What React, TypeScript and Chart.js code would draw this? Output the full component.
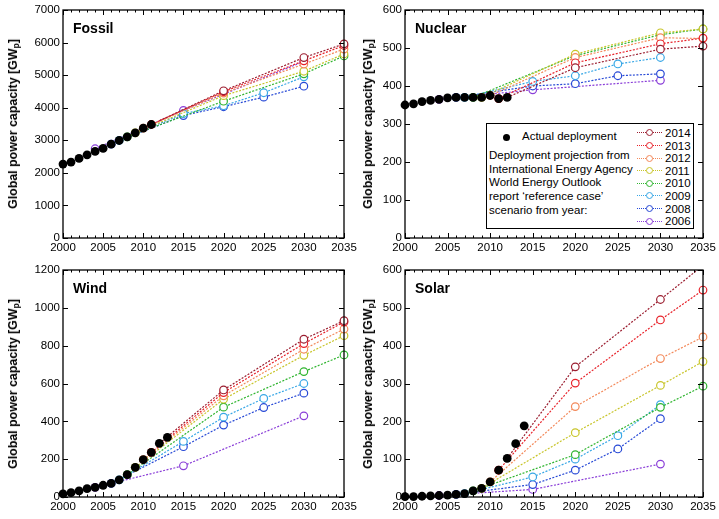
import React, { useEffect, useRef } from 'react';
import { Chart, registerables } from 'chart.js';

Chart.register(...registerables);

const FONT = "'Liberation Sans', Arial, Helvetica, sans-serif";

// ---------- data ----------
const actualYears = [2000, 2001, 2002, 2003, 2004, 2005, 2006, 2007, 2008, 2009, 2010, 2011, 2012, 2013, 2014];

const fossilActual = [2269, 2330, 2442, 2555, 2657, 2749, 2882, 2994, 3106, 3229, 3372, 3485];
const nuclearActual = [350, 353, 359, 362, 365, 369, 370, 370, 370, 370, 375, 367, 370];
const windActual = [16, 23, 32, 44, 51, 62, 72, 91, 118, 157, 197, 236, 283, 315];
const solarActual = [1, 1, 2, 3, 4, 5, 7, 9, 16, 23, 40, 71, 102, 141, 188];

const reports = ['2014', '2013', '2012', '2011', '2010', '2009', '2008', '2006'];
const colors = ['#9b1e30', '#e8232b', '#f3895a', '#c8c52a', '#30b530', '#38a7e6', '#2749d6', '#8a3ed8'];

const pYears2014 = [2012, 2020, 2030, 2035];
const pYears2013 = [2011, 2020, 2030, 2035];
const pYears2012 = [2010, 2020, 2030, 2035];
const pYears2011 = [2009, 2020, 2030, 2035];
const pYears2010 = [2008, 2020, 2030, 2035];
const pYears2009 = [2007, 2015, 2020, 2025, 2030];
const pYears2008 = [2006, 2015, 2020, 2025, 2030];
const pYears2006 = [2004, 2015, 2030];
const reportYears = [pYears2014, pYears2013, pYears2012, pYears2011, pYears2010, pYears2009, pYears2008, pYears2006];

const fossilP2014 = [3600, 4520, 5540, 5960];
const fossilP2013 = [3485, 4490, 5440, 5910];
const fossilP2012 = [3372, 4450, 5340, 5800];
const fossilP2011 = [3229, 4370, 5120, 5650];
const fossilP2010 = [3106, 4200, 5040, 5590];
const fossilP2009 = [2994, 3820, 4060, 4460, 4950];
const fossilP2008 = [2882, 3760, 4030, 4325, 4660];
const fossilP2006 = [2740, 3915, 5420];

const nuclearP2014 = [370, 448, 497, 505];
const nuclearP2013 = [367, 461, 511, 526];
const nuclearP2012 = [375, 475, 527, 525];
const nuclearP2011 = [370, 484, 540, 550];
const nuclearP2010 = [370, 480, 535, 550];
const nuclearP2009 = [370, 412, 427, 458, 475];
const nuclearP2008 = [370, 400, 406, 427, 432];
const nuclearP2006 = [365, 390, 415];

const windP2014 = [283, 566, 834, 932];
const windP2013 = [236, 552, 811, 925];
const windP2012 = [197, 535, 781, 888];
const windP2011 = [157, 517, 749, 853];
const windP2010 = [118, 475, 663, 751];
const windP2009 = [91, 294, 422, 521, 600];
const windP2008 = [72, 266, 380, 473, 549];
const windP2006 = [51, 165, 429];

const solarP2014 = [102, 344, 522, 612];
const solarP2013 = [71, 301, 468, 547];
const solarP2012 = [40, 239, 366, 423];
const solarP2011 = [23, 170, 295, 358];
const solarP2010 = [16, 112, 237, 293];
const solarP2009 = [9, 53, 100, 162, 244];
const solarP2008 = [7, 33, 71, 127, 207];
const solarP2006 = [4, 20, 87];

// ---------- layout ----------
const PAD_L = 60;
const PAD_T = 10;
const PAD_R = 18;
const PAD_B = 24;

type PanelDef = {
  title: string;
  plot: [number, number, number, number];
  yMax: number;
  yStep: number;
  axisTitleX: number;
  actual: number[];
  proj: number[][];
};

const panels: PanelDef[] = [
  {
    title: 'Fossil', plot: [63, 10, 344, 238], yMax: 7000, yStep: 1000, axisTitleX: 13,
    actual: fossilActual,
    proj: [fossilP2014, fossilP2013, fossilP2012, fossilP2011, fossilP2010, fossilP2009, fossilP2008, fossilP2006],
  },
  {
    title: 'Nuclear', plot: [405, 10, 703, 238], yMax: 600, yStep: 100, axisTitleX: 368,
    actual: nuclearActual,
    proj: [nuclearP2014, nuclearP2013, nuclearP2012, nuclearP2011, nuclearP2010, nuclearP2009, nuclearP2008, nuclearP2006],
  },
  {
    title: 'Wind', plot: [63, 270, 344, 497], yMax: 1200, yStep: 200, axisTitleX: 13,
    actual: windActual,
    proj: [windP2014, windP2013, windP2012, windP2011, windP2010, windP2009, windP2008, windP2006],
  },
  {
    title: 'Solar', plot: [405, 270, 703, 497], yMax: 600, yStep: 100, axisTitleX: 368,
    actual: solarActual,
    proj: [solarP2014, solarP2013, solarP2012, solarP2011, solarP2010, solarP2009, solarP2008, solarP2006],
  },
];

const frameTicks = {
  id: 'frameTicks',
  afterDraw(chart: any) {
    const { ctx, chartArea } = chart;
    const { left, right, top, bottom } = chartArea;
    const x = chart.scales.x;
    const y = chart.scales.y;
    ctx.save();
    ctx.strokeStyle = '#000';
    ctx.lineWidth = 1.3;
    ctx.strokeRect(left, top, right - left, bottom - top);
    ctx.lineWidth = 1;
    ctx.beginPath();
    for (let yr = x.min; yr <= x.max; yr++) {
      const px = Math.round(x.getPixelForValue(yr)) + 0.5;
      const len = yr % 5 === 0 ? 5 : 2.5;
      ctx.moveTo(px, bottom);
      ctx.lineTo(px, bottom - len);
      ctx.moveTo(px, top);
      ctx.lineTo(px, top + len);
    }
    y.ticks.forEach((t: any) => {
      const py = Math.round(y.getPixelForValue(t.value)) + 0.5;
      ctx.moveTo(left, py);
      ctx.lineTo(left + 5, py);
      ctx.moveTo(right, py);
      ctx.lineTo(right - 5, py);
    });
    ctx.stroke();
    ctx.restore();
  },
};

function buildDatasets(actual: number[], proj: number[][]) {
  const clip = { left: 10, top: 0, right: 10, bottom: 10 };
  const ds: any[] = [
    {
      label: 'Actual deployment',
      data: actual.map((v, i) => ({ x: actualYears[i], y: v })),
      showLine: false,
      pointRadius: 4.4,
      pointBackgroundColor: '#000',
      pointBorderColor: '#000',
      pointBorderWidth: 0,
      clip,
    },
  ];
  proj.forEach((vals, k) => {
    ds.push({
      label: reports[k],
      data: vals.map((v, i) => ({ x: reportYears[k][i], y: v })),
      borderColor: colors[k],
      borderWidth: 1.2,
      borderDash: [2, 1.5],
      pointRadius: (c: any) => (k === 0 && c.dataIndex === 0 ? 0 : 3.8),
      pointBorderWidth: 1.2,
      pointBackgroundColor: '#fff',
      pointBorderColor: colors[k],
      tension: 0,
      fill: false,
      clip,
    });
  });
  return ds;
}

function Panel({ def }: { def: PanelDef }) {
  const ref = useRef<HTMLCanvasElement>(null);
  const [l, t, r, b] = def.plot;
  const w = r - l + PAD_L + PAD_R;
  const h = b - t + PAD_T + PAD_B;

  useEffect(() => {
    if (!ref.current) return;
    const tickFont = { family: FONT, size: 11.5 };
    const chart = new Chart(ref.current, {
      type: 'line',
      data: { datasets: buildDatasets(def.actual, def.proj) },
      options: {
        animation: false,
        responsive: false,
        maintainAspectRatio: false,
        events: [],
        layout: { padding: { left: 0, top: PAD_T, right: PAD_R, bottom: 0 } },
        plugins: { legend: { display: false }, tooltip: { enabled: false } },
        scales: {
          x: {
            type: 'linear',
            min: 2000,
            max: 2035,
            ticks: { stepSize: 5, padding: 3, color: '#000', font: tickFont, maxRotation: 0, autoSkip: false, callback: (v: any) => String(v) },
            grid: { display: false, drawTicks: false },
            border: { display: false },
            afterFit: (s: any) => { s.height = PAD_B; },
          },
          y: {
            type: 'linear',
            min: 0,
            max: def.yMax,
            ticks: { stepSize: def.yStep, padding: 3, color: '#000', font: tickFont, callback: (v: any) => String(v) },
            grid: { display: false, drawTicks: false },
            border: { display: false },
            afterFit: (s: any) => { s.width = PAD_L; },
          },
        },
      } as any,
      plugins: [frameTicks],
    });
    return () => chart.destroy();
  }, [def]);

  const cy = (t + b) / 2;
  return (
    <>
      <canvas
        ref={ref}
        width={w}
        height={h}
        style={{ position: 'absolute', left: l - PAD_L, top: t - PAD_T, width: w, height: h }}
      />
      <div
        style={{
          position: 'absolute', left: l + 10, top: t + 10.5, fontSize: 14, fontWeight: 'bold',
          lineHeight: '15px', color: '#000', whiteSpace: 'nowrap',
        }}
      >
        {def.title}
      </div>
      <div
        style={{
          position: 'absolute', left: def.axisTitleX, top: cy, transform: 'translate(-50%, -50%) rotate(-90deg)',
          fontSize: 12.4, fontWeight: 'bold', whiteSpace: 'nowrap', lineHeight: '14px', color: '#000',
        }}
      >
        Global power capacity [GW<sub style={{ fontSize: 8.5, verticalAlign: -2, lineHeight: 0 }}>p</sub>]
      </div>
    </>
  );
}

const legendTextLines = [
  'Deployment projection from',
  'International Energy Agency',
  'World Energy Outlook',
  "report \u2018reference case\u2019",
  'scenario from year:',
];

function Legend() {
  const L = 486;
  const T = 123;
  return (
    <div
      style={{
        position: 'absolute', left: L, top: T, width: 208, height: 106, border: '1px solid #000',
        boxSizing: 'border-box', background: '#fff', fontSize: 11.5, color: '#000',
      }}
    >
      <div style={{ position: 'absolute', left: 16, top: 9.5, width: 7, height: 7, borderRadius: '50%', background: '#000' }} />
      <div style={{ position: 'absolute', left: 35, top: 5, lineHeight: '14px', whiteSpace: 'nowrap' }}>Actual deployment</div>
      {legendTextLines.map((s, i) => (
        <div key={s} style={{ position: 'absolute', left: 2, top: 24 + i * 13.7, lineHeight: '14px', whiteSpace: 'nowrap' }}>{s}</div>
      ))}
      {reports.map((rep, i) => {
        const cyy = 9 + i * 12.6;
        return (
          <React.Fragment key={rep}>
            <div style={{ position: 'absolute', left: 150, top: cyy - 0.6, width: 25, height: 0, borderTop: `1.3px dotted ${colors[i]}` }} />
            <div
              style={{
                position: 'absolute', left: 159, top: cyy - 3.6, width: 7, height: 7, borderRadius: '50%',
                border: `1.2px solid ${colors[i]}`, background: '#fff', boxSizing: 'border-box',
              }}
            />
            <div style={{ position: 'absolute', left: 178, top: cyy - 7, lineHeight: '14px', whiteSpace: 'nowrap' }}>{rep}</div>
          </React.Fragment>
        );
      })}
    </div>
  );
}

export default function App() {
  return (
    <div
      style={{
        position: 'fixed', left: 0, top: 0, width: 719, height: 519, background: '#fff',
        fontFamily: FONT, overflow: 'hidden',
      }}
    >
      {panels.map((p) => (
        <Panel key={p.title} def={p} />
      ))}
      <Legend />
    </div>
  );
}
